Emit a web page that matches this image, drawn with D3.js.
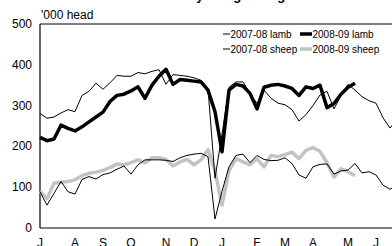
<!DOCTYPE html>
<html lang="en">
<head>
    <meta charset="UTF-8">
    <title>Lamb and sheep slaughterings</title>
    <script type="text/javascript" src="https://d3js.org/d3.v7.min.js"></script>
    <style>
        body{
            margin: 0;
            background-color: white;
            overflow: hidden;
        }
        text{
            font-family: "Liberation Sans", Arial, sans-serif;
            fill: #000;
        }
    </style>
</head>
<body>
    <script type="text/javascript">
        var width = 392;
        var height = 246;

        // month labels and the week each month starts on
        var monthLabels = ["J","A","S","O","N","D","J","F","M","A","M","J"];
        var monthWeeks  = [0, 5, 9, 13, 18, 22, 26, 31, 35, 39, 44, 48];
        var yTicks = [0, 100, 200, 300, 400, 500];

        // weekly values, '000 head
        var lamb0708 = [281,269,272,282,290,285,325,335,355,340,356,374,372,372,381,378,384,388,352,376,
                        374,372,368,362,342,122,230,345,358,358,330,305,338,318,306,302,290,262,278,300,
                        326,335,292,325,352,338,322,312,306,270,245,265];
        var lamb0809 = [222,214,218,252,244,238,248,260,272,284,310,325,328,336,346,318,350,372,389,352,
                        364,362,360,358,338,285,187,338,352,348,330,292,345,350,352,348,342,325,346,342,
                        350,295,305,328,345,355];
        var sheep0708 = [89,56,85,114,89,83,119,126,120,131,135,144,152,132,155,167,167,167,166,163,
                         172,178,181,183,175,22,90,150,178,181,160,178,168,165,166,172,158,130,122,150,
                         156,157,132,140,142,158,135,138,130,105,95,105];
        var sheep0809 = [90,72,110,112,114,118,128,134,137,141,148,157,155,160,167,160,172,172,168,152,
                         162,168,155,167,192,140,56,140,170,162,155,170,150,178,175,180,186,170,190,197,
                         188,160,125,145,138,128];

        var seriesNames = ["2007-08 lamb", "2008-09 lamb", "2007-08 sheep", "2008-09 sheep"];

        var svg = d3.select("body").append("svg")
                .attr("width", width)
                .attr("height", height);

        var x = d3.scaleLinear().domain([0, 52]).range([40, 404]);
        var y = d3.scaleLinear().domain([0, 500]).range([228, 24]);

        // title, mostly off the top of the picture
        svg.append("text")
            .attr("x", 159)
            .attr("y", 0)
            .style("font-size", "13px")
            .style("font-weight", "bold")
            .text("Weekly slaughterings");

        // frame: top rule, left axis, bottom axis
        svg.append("line").attr("x1", 40).attr("x2", width).attr("y1", y(500)).attr("y2", y(500))
            .attr("stroke", "#000").attr("stroke-width", 1);
        svg.append("line").attr("x1", 40).attr("x2", 40).attr("y1", y(500)).attr("y2", y(0))
            .attr("stroke", "#000").attr("stroke-width", 1.2);
        svg.append("line").attr("x1", 40).attr("x2", width).attr("y1", y(0)).attr("y2", y(0))
            .attr("stroke", "#000").attr("stroke-width", 1.2);

        svg.selectAll(".ytick")
            .data(yTicks)
            .enter()
            .append("text")
            .attr("class", "ytick")
            .attr("x", 32)
            .attr("y", function(d){ return y(d) + 4; })
            .attr("text-anchor", "end")
            .style("font-size", "12px")
            .text(function(d){ return d; });

        svg.append("text")
            .attr("x", 41)
            .attr("y", 19)
            .style("font-size", "12px")
            .text("'000 head");

        // month letters sit on the bottom edge, partly cut as in the source
        svg.selectAll(".xtick")
            .data(monthLabels)
            .enter()
            .append("text")
            .attr("class", "xtick")
            .attr("x", function(d, i){ return x(monthWeeks[i]); })
            .attr("y", 247)
            .attr("text-anchor", "middle")
            .style("font-size", "12px")
            .text(function(d){ return d; });

        var line = d3.line()
            .x(function(d, i){ return x(i); })
            .y(function(d){ return y(d); });

        // grey first, then thick black, then thin black on top
        svg.append("path").datum(sheep0809).attr("d", line)
            .attr("fill", "none").attr("stroke", "#c3c3c3").attr("stroke-width", 3.5)
            .attr("stroke-linejoin", "round");
        svg.append("path").datum(lamb0809).attr("d", line)
            .attr("fill", "none").attr("stroke", "#000").attr("stroke-width", 3.5)
            .attr("stroke-linejoin", "round");
        svg.append("path").datum(sheep0708).attr("d", line)
            .attr("fill", "none").attr("stroke", "#000").attr("stroke-width", 1);
        svg.append("path").datum(lamb0708).attr("d", line)
            .attr("fill", "none").attr("stroke", "#000").attr("stroke-width", 1);

        // legend
        var legStyle = [
            {x: 223, y: 34, w: 7, c: "#000", sw: 1},
            {x: 300, y: 34, w: 12, c: "#000", sw: 3.5},
            {x: 223, y: 49, w: 7, c: "#000", sw: 1},
            {x: 300, y: 49, w: 12, c: "#c3c3c3", sw: 3.5}
        ];
        var leg = svg.selectAll(".leg")
            .data(seriesNames)
            .enter()
            .append("g")
            .attr("class", "leg");
        leg.append("line")
            .attr("x1", function(d, i){ return legStyle[i].x; })
            .attr("x2", function(d, i){ return legStyle[i].x + legStyle[i].w; })
            .attr("y1", function(d, i){ return legStyle[i].y; })
            .attr("y2", function(d, i){ return legStyle[i].y; })
            .attr("stroke", function(d, i){ return legStyle[i].c; })
            .attr("stroke-width", function(d, i){ return legStyle[i].sw; });
        leg.append("text")
            .attr("x", function(d, i){ return legStyle[i].x + legStyle[i].w + 0.5; })
            .attr("y", function(d, i){ return legStyle[i].y + 3.5; })
            .style("font-size", "10px")
            .text(function(d){ return d; });
    </script>
</body>
</html>
